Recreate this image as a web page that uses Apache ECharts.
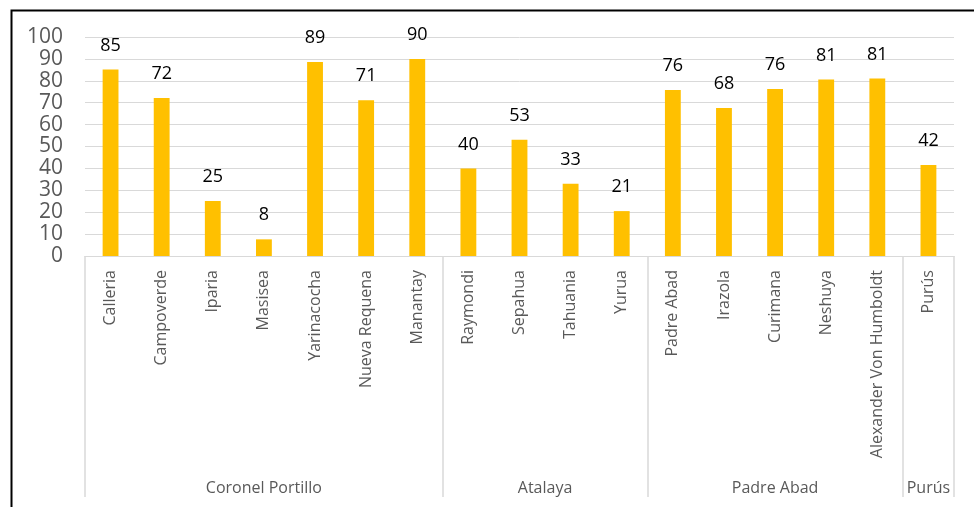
<!DOCTYPE html>
<html>
<head>
<meta charset="utf-8">
<script src="https://cdn.jsdelivr.net/npm/echarts@6/dist/echarts.min.js"></script>
<style>
  html, body { margin: 0; padding: 0; background: #fff; }
  #main { width: 974px; height: 507px; }
</style>
</head>
<body>
<div id="main"></div>
<script>
// districts, one bar each
var districts = ['Calleria', 'Campoverde', 'Iparia', 'Masisea', 'Yarinacocha', 'Nueva Requena', 'Manantay',
  'Raymondi', 'Sepahua', 'Tahuania', 'Yurua',
  'Padre Abad', 'Irazola', 'Curimana', 'Neshuya', 'Alexander Von Humboldt',
  'Purús'];
var values = [85.2, 72.1, 25.1, 7.6, 88.6, 71.1, 90.0,
  39.9, 53.1, 33.0, 20.5,
  75.8, 67.6, 76.3, 80.6, 81.1,
  41.6];
// provinces and how many districts each one holds
var provinces = ['Coronel Portillo', 'Atalaya', 'Padre Abad', 'Purús'];
var provinceSizes = [7, 4, 5, 1];
var yTicks = [0, 10, 20, 30, 40, 50, 60, 70, 80, 90, 100];

// boundaries and label centres of the provinces (in category units)
var bounds = [0];
var centres = {};
provinceSizes.forEach(function (n, i) {
  var start = bounds[bounds.length - 1];
  bounds.push(start + n);
  centres[start + n / 2] = provinces[i];
});

var chart = echarts.init(document.getElementById('main'));

var gray = '#595959';
var lineGray = '#d9d9d9';

var option = {
  animation: false,
  textStyle: { fontFamily: 'Open Sans' },
  graphic: [{
    type: 'rect',
    left: 9, top: 8,
    shape: { width: 1100, height: 600 },
    style: { fill: 'none', stroke: '#000', lineWidth: 2 },
    silent: true
  }],
  grid: [
    { left: 85, right: 20, top: 37, bottom: 251 },
    { left: 85, right: 20, top: 256, bottom: 10 }
  ],
  xAxis: [
    {
      type: 'category',
      gridIndex: 0,
      data: districts,
      axisLine: { lineStyle: { color: lineGray } },
      axisTick: { show: false },
      axisLabel: {
        interval: 0,
        rotate: 90,
        margin: 14,
        color: gray,
        fontSize: 16
      }
    },
    {
      type: 'value',
      gridIndex: 1,
      min: 0,
      max: districts.length,
      interval: 0.5,
      axisLine: { show: false },
      axisTick: { show: false },
      splitLine: { show: false },
      axisLabel: {
        inside: true,
        margin: 1,
        color: gray,
        fontSize: 16,
        formatter: function (v) { return centres[v] || ''; }
      }
    }
  ],
  yAxis: [
    {
      type: 'value',
      gridIndex: 0,
      min: yTicks[0],
      max: yTicks[yTicks.length - 1],
      interval: 10,
      axisLine: { show: false },
      axisTick: { show: false },
      splitLine: { lineStyle: { color: lineGray, width: 1 } },
      axisLabel: { color: gray, fontSize: 21, margin: 22 }
    },
    {
      type: 'value',
      gridIndex: 1,
      min: 0,
      max: 1,
      show: false
    }
  ],
  series: [
    {
      type: 'bar',
      xAxisIndex: 0,
      yAxisIndex: 0,
      data: values,
      barWidth: '31%',
      itemStyle: { color: '#ffc000' },
      label: {
        show: true,
        position: 'top',
        distance: 15,
        color: '#000',
        fontSize: 18,
        formatter: function (p) { return Math.round(p.value); }
      }
    },
    {
      // province separators
      type: 'line',
      xAxisIndex: 1,
      yAxisIndex: 1,
      data: [],
      markLine: {
        silent: true,
        symbol: 'none',
        label: { show: false },
        lineStyle: { color: lineGray, type: 'solid', width: 1.5 },
        data: bounds.map(function (b) { return { xAxis: b }; })
      }
    }
  ]
};

chart.setOption(option);
</script>
</body>
</html>
